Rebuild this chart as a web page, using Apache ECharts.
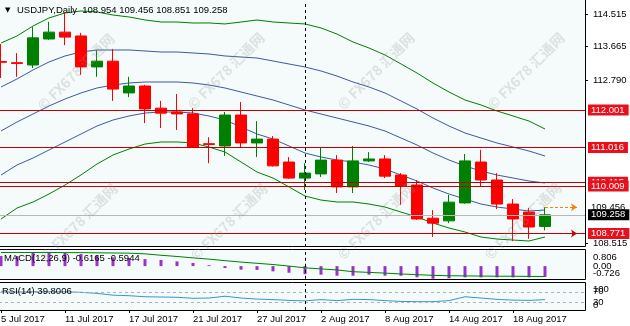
<!DOCTYPE html>
<html><head><meta charset="utf-8">
<script src="https://cdn.jsdelivr.net/npm/echarts@6/dist/echarts.min.js"></script>
<style>html,body{margin:0;padding:0;background:#fff}#c{width:630px;height:326px}</style>
</head><body><div id="c"></div>
<script>
// ---- data ----
const dates = ['5 Jul 2017','6 Jul 2017','7 Jul 2017','10 Jul 2017','11 Jul 2017','12 Jul 2017','13 Jul 2017','14 Jul 2017','17 Jul 2017','18 Jul 2017','19 Jul 2017','20 Jul 2017','21 Jul 2017','24 Jul 2017','25 Jul 2017','26 Jul 2017','27 Jul 2017','28 Jul 2017','31 Jul 2017','1 Aug 2017','2 Aug 2017','3 Aug 2017','4 Aug 2017','7 Aug 2017','8 Aug 2017','9 Aug 2017','10 Aug 2017','11 Aug 2017','14 Aug 2017','15 Aug 2017','16 Aug 2017','17 Aug 2017','18 Aug 2017','21 Aug 2017','22 Aug 2017'];
const openP  = [113.27,113.24,113.18,113.86,114.04,113.94,113.13,113.28,112.45,112.63,112.05,111.95,111.90,111.12,111.06,111.87,111.14,111.24,110.64,110.22,110.33,110.69,109.99,110.67,110.72,110.30,110.04,109.17,109.10,109.57,110.64,110.17,109.54,109.33,108.954];
const closeP = [113.25,113.22,113.89,114.04,113.91,113.13,113.28,112.55,112.63,112.03,111.92,111.90,111.03,111.10,111.87,111.14,111.24,110.54,110.22,110.35,110.69,109.99,110.67,110.72,110.27,110.01,109.15,109.04,109.59,110.67,110.17,109.54,109.15,108.94,109.258];
const lowP   = [112.84,112.87,113.10,113.84,113.70,112.92,112.87,112.24,112.34,111.66,111.53,111.48,111.01,110.61,110.80,111.03,110.77,110.52,110.20,109.91,110.25,109.83,109.83,110.64,110.22,109.52,109.13,108.68,109.04,109.55,110.01,109.41,108.57,108.63,108.851];
const highP  = [113.73,113.49,114.17,114.31,114.54,114.02,113.57,113.60,112.87,112.66,112.24,112.42,112.05,111.29,111.95,112.21,111.71,111.32,110.77,110.61,111.01,110.82,111.06,110.90,110.82,110.35,110.17,109.38,109.78,110.85,110.96,110.35,109.67,109.44,109.456];
const bandUpper2 = [113.756,113.940,114.201,114.411,114.542,114.593,114.568,114.488,114.437,114.359,114.305,114.305,114.279,114.280,114.254,114.305,114.358,114.306,114.279,114.254,114.149,113.990,113.782,113.625,113.442,113.207,112.970,112.708,112.473,112.264,112.133,111.976,111.846,111.713,111.505];
const bandUpper1 = [112.604,112.814,113.049,113.259,113.416,113.520,113.573,113.572,113.573,113.547,113.520,113.520,113.494,113.468,113.416,113.389,113.363,113.285,113.206,113.128,113.023,112.891,112.735,112.604,112.447,112.238,112.028,111.792,111.583,111.400,111.269,111.138,111.034,110.928,110.798];
const bandMiddle = [111.452,111.688,111.897,112.107,112.290,112.447,112.578,112.656,112.709,112.735,112.735,112.735,112.709,112.656,112.578,112.473,112.368,112.264,112.133,112.002,111.897,111.792,111.688,111.583,111.452,111.269,111.086,110.876,110.693,110.536,110.405,110.300,110.222,110.143,110.091];
const bandLower1 = [110.300,110.562,110.745,110.955,111.164,111.374,111.583,111.740,111.845,111.923,111.950,111.950,111.924,111.844,111.740,111.557,111.373,111.243,111.060,110.876,110.771,110.693,110.641,110.562,110.457,110.300,110.144,109.960,109.803,109.672,109.541,109.462,109.410,109.358,109.384];
const bandLower2 = [109.148,109.436,109.593,109.803,110.038,110.301,110.588,110.824,110.981,111.111,111.165,111.165,111.139,111.032,110.902,110.641,110.378,110.222,109.987,109.750,109.645,109.594,109.594,109.541,109.462,109.331,109.202,109.044,108.913,108.808,108.677,108.624,108.598,108.573,108.677];
const macdHist   = [0.58,0.58,0.79,0.806,0.78,0.69,0.59,0.50,0.46,0.40,0.35,0.27,0.18,0.05,-0.11,-0.20,-0.22,-0.30,-0.38,-0.46,-0.49,-0.55,-0.55,-0.49,-0.55,-0.55,-0.64,-0.72,-0.70,-0.64,-0.64,-0.64,-0.64,-0.64,-0.6165];
const macdSignal = [0.78,0.78,0.78,0.78,0.77,0.77,0.76,0.75,0.74,0.70,0.62,0.55,0.47,0.40,0.31,0.23,0.16,0.09,0.00,-0.10,-0.16,-0.22,-0.32,-0.36,-0.40,-0.45,-0.49,-0.53,-0.55,-0.56,-0.57,-0.58,-0.58,-0.59,-0.5944];
const rsiValues  = [70,69,70,70,70,68,64,57,55,51,50,49,45,46,53,46,42,40,37,35,40,36,41,40,36,33,32,32,36,51,46,41,38,37,39.8006];
const priceTicks = [108.515,112.790,113.665,114.515];
const redLevels  = [112.001,111.016,110.115,110.009,108.771];
const macdMin = -0.726, macdMax = 0.806;
const rsiMid = [70,30];
const rsiLevels  = [70,30];
const markerDateIndex = 19;

// ---- chart ----
const FONT = 'Liberation Sans';
const FS = 9.5;
const cats = dates.concat(['','']);
const last = dates.length - 1;
const ohlc = dates.map((d,i)=>[openP[i],closeP[i],lowP[i],highP[i]]);
const PANEL_BG = '#f4fbfa';
const GL = -7, GW = 16*cats.length;

function hiddenX(idx){
  return {type:'category',data:cats,gridIndex:idx,boundaryGap:true,
    axisLine:{show:false},axisTick:{show:false},axisLabel:{show:false},splitLine:{show:false}};
}
const vDash = {xAxis: dates[markerDateIndex], lineStyle:{color:'#000',type:[3,3],width:1}, label:{show:false}};

function redLabel(v){
  return {yAxis:v, lineStyle:{color:'#c00000',width:1,type:'solid'},
    label:{show:true,position:'end',distance:3,formatter:()=>v.toFixed(3),color:'#fff',
      backgroundColor:'#e8101c',padding:[1,4,0,3],fontSize:FS,fontFamily:FONT,lineHeight:10}};
}

const markData = [];
redLevels.forEach(v=>markData.push(redLabel(v)));
markData.push([
  {coord:[dates[last],highP[last]],symbol:'none',lineStyle:{color:'#ff8000',type:[3,2],width:1},
   label:{show:true,position:'end',distance:14,formatter:()=>highP[last].toFixed(3),color:'#000',fontSize:FS,fontFamily:FONT}},
  {coord:[cats[cats.length-1],highP[last]],symbol:'arrow',symbolSize:6}
]);
markData.push({yAxis:closeP[last], lineStyle:{color:'#b8b8b8',width:1,type:'solid'},
  label:{show:true,position:'end',distance:3,formatter:()=>closeP[last].toFixed(3),color:'#fff',
    backgroundColor:'#000',padding:[1,4,0,3],fontSize:FS,fontFamily:FONT,lineHeight:10}});
markData.push([
  {coord:[dates[last],redLevels[4]],symbol:'none',lineStyle:{color:'#c00000',width:1,type:'solid'},label:{show:false}},
  {coord:[cats[cats.length-1],redLevels[4]],symbol:'arrow',symbolSize:6}
]);
markData.push(vDash);

function band(data,color){
  return {type:'line',xAxisIndex:0,yAxisIndex:0,data:data,showSymbol:false,symbol:'none',silent:true,
    lineStyle:{color:color,width:1},z:1,animation:false};
}
function labelAxis(grid,min,max,vals,vAlign,fmt){
  return {type:'value',gridIndex:grid,position:'right',min:min,max:max,splitLine:{show:false},axisLine:{show:false},
    axisTick:{show:false},
    axisLabel:{customValues:vals,showMinLabel:true,showMaxLabel:true,hideOverlap:false,margin:8,color:'#000',
      fontSize:FS,fontFamily:FONT,verticalAlign:vAlign,formatter:fmt}};
}

const wm = [];
[[40,108],[190,107],[340,107],[490,107],[43,258],[193,258],[340,257],[487,257]].forEach(p=>{
  wm.push({type:'text',x:p[0],y:p[1],rotation:Math.PI/4,z:100,silent:true,
    style:{text:'© FX678 汇通网',fill:'rgba(150,150,150,0.26)',font:'bold 14px "Noto Sans CJK SC"',align:'left',verticalAlign:'middle'}});
});

const gridBase = {left:GL,width:GW,outerBoundsMode:'none',containLabel:false};
const option = {
  animation:false,
  backgroundColor:'#ffffff',
  textStyle:{fontFamily:FONT},
  grid:[
    Object.assign({top:1,height:246},gridBase),
    Object.assign({top:252,height:26.8},gridBase),
    Object.assign({top:284,height:26},gridBase)
  ],
  xAxis:[hiddenX(0),hiddenX(1),{
    type:'category',data:cats,gridIndex:2,boundaryGap:true,
    axisLine:{show:false},
    axisTick:{show:true,alignWithLabel:true,length:3,interval:(i)=>i%4===0&&i<dates.length,lineStyle:{color:'#000'}},
    axisLabel:{show:true,interval:(i)=>i%4===0&&i<dates.length,align:'left',margin:4,color:'#000',fontSize:FS,fontFamily:FONT},
    splitLine:{show:false}
  }],
  yAxis:[
    {type:'value',gridIndex:0,position:'right',min:108.416,max:114.855,splitLine:{show:false},axisLine:{show:false},
     axisTick:{show:true,length:3,customValues:priceTicks,lineStyle:{color:'#000'}},
     axisLabel:{customValues:priceTicks,formatter:v=>v.toFixed(3),margin:8,color:'#000',fontSize:FS,fontFamily:FONT}},
    labelAxis(1,macdMin,macdMax,[0],'middle',v=>v.toFixed(2)),
    labelAxis(2,0,100,rsiMid,'middle',v=>String(v)),
    labelAxis(1,macdMin,macdMax,[macdMax],'top',v=>v.toFixed(3)),
    labelAxis(1,macdMin,macdMax,[macdMin],'bottom',v=>v.toFixed(3)),
    labelAxis(2,0,100,[100],'top',v=>String(v)),
    labelAxis(2,0,100,[0],'bottom',v=>String(v))
  ],
  graphic:[
    {type:'rect',shape:{x:-1,y:-1,width:586.5,height:247.5},style:{fill:PANEL_BG,stroke:'#000',lineWidth:1},z:-10,silent:true},
    {type:'rect',shape:{x:-1,y:249.5,width:586.5,height:30},style:{fill:PANEL_BG,stroke:'#000',lineWidth:1},z:-10,silent:true},
    {type:'rect',shape:{x:-1,y:282.5,width:586.5,height:28},style:{fill:PANEL_BG,stroke:'#000',lineWidth:1},z:-10,silent:true},
    {type:'text',x:5,y:10,z:50,style:{text:'▼',fill:'#000',font:'7px "DejaVu Sans"',verticalAlign:'middle'}},
    {type:'text',x:17,y:10,z:50,style:{text:'USDJPY,Daily  '+openP[last].toFixed(3)+' '+highP[last].toFixed(3)+' '+lowP[last].toFixed(3)+' '+closeP[last].toFixed(3),fill:'#000',font:FS+'px "'+FONT+'"',verticalAlign:'middle'}},
    {type:'text',x:4,y:258,z:50,style:{text:'MACD(12,26,9) '+macdHist[last].toFixed(4)+' '+macdSignal[last].toFixed(4),fill:'#000',font:FS+'px "'+FONT+'"',verticalAlign:'middle'}},
    {type:'text',x:2,y:291.5,z:50,style:{text:'RSI(14) '+rsiValues[last].toFixed(4),fill:'#000',font:FS+'px "'+FONT+'"',verticalAlign:'middle'}}
  ].concat(wm),
  series:[
    band(bandUpper2,'#008000'),
    band(bandUpper1,'#3d5a9e'),
    band(bandMiddle,'#3d5a9e'),
    band(bandLower1,'#3d5a9e'),
    band(bandLower2,'#008000'),
    {type:'candlestick',xAxisIndex:0,yAxisIndex:0,data:ohlc,barWidth:11,z:3,
     itemStyle:{color:'#008000',color0:'#ff0000',borderColor:'#008000',borderColor0:'#ff0000',borderWidth:1},
     markLine:{silent:true,symbol:['none','none'],animation:false,data:markData}},
    {type:'bar',xAxisIndex:1,yAxisIndex:1,data:macdHist,barWidth:3,itemStyle:{color:'#9933cc'},z:2,
     markLine:{silent:true,symbol:['none','none'],data:[vDash]}},
    {type:'line',xAxisIndex:1,yAxisIndex:1,data:macdSignal,showSymbol:false,symbol:'none',lineStyle:{color:'#008000',width:1},z:3},
    {type:'line',xAxisIndex:2,yAxisIndex:2,data:rsiValues,showSymbol:false,symbol:'none',lineStyle:{color:'#3c96c8',width:1},z:3,
     markLine:{silent:true,symbol:['none','none'],data:rsiLevels.map(v=>({yAxis:v,lineStyle:{color:'#a8b4c4',type:[3,3],width:1},label:{show:false}})).concat([vDash])}}
  ]
};
const chart = echarts.init(document.getElementById('c'));
chart.setOption(option);
</script></body></html>
